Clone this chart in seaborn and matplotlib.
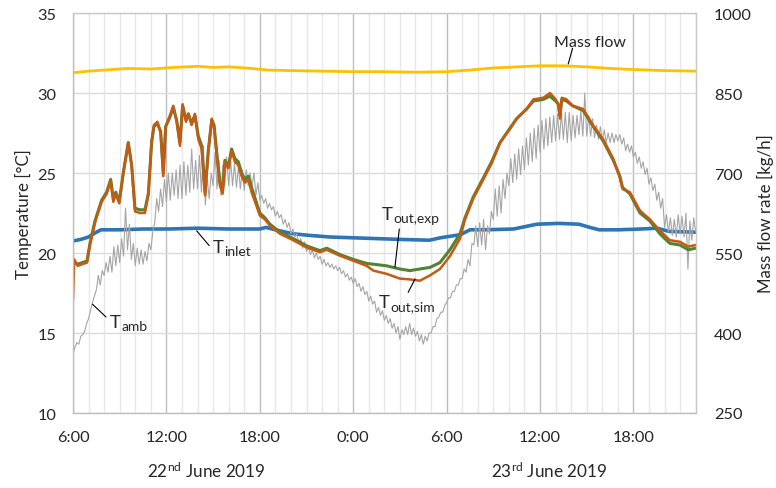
import numpy as np
import pandas as pd
import matplotlib
matplotlib.use("Agg")
import matplotlib.pyplot as plt
import seaborn as sns

# ---------------- data (hours after 22 June 2019, 6:00) ----------------
# ambient temperature, read every 7.5 min (one row = one hour)
amb = [13.7, 14.1, 14.4, 14.3, 14.8, 14.9, 15.1, 15.6,
       15.9, 16.4, 16.9, 17.3, 17.7, 18.6, 18.0, 18.9,
       18.6, 19.4, 18.8, 19.8, 18.8, 20.4, 19.2, 20.5,
       19.4, 20.9, 19.8, 22.8, 20.2, 21.8, 19.6, 20.6,
       19.2, 20.3, 19.3, 20.2, 19.3, 20.1, 19.5, 20.6,
       20.2, 21.3, 21.9, 23.4, 22.6, 24.0, 22.9, 24.6,
       23.2, 25.0, 23.3, 25.0, 23.6, 25.2, 23.4, 25.5,
       23.4, 25.7, 23.6, 25.5, 23.8, 26.5, 24.0, 25.8,
       24.0, 26.1, 23.8, 26.7, 23.0, 24.6, 23.4, 25.0,
       24.2, 26.3, 24.0, 25.8, 23.6, 25.5, 24.2, 26.0,
       24.2, 25.8, 24.2, 25.6, 24.1, 25.4, 24.0, 25.2,
       23.9, 25.2, 24.2, 25.0, 24.2, 25.0, 23.6, 24.4,
       23.3, 23.6, 23.1, 23.4, 22.8, 23.1, 22.7, 22.9,
       22.3, 22.6, 22.2, 22.4, 21.8, 22.1, 21.6, 21.9,
       21.2, 21.5, 21.0, 21.2, 20.6, 20.9, 20.3, 20.7,
       20.1, 20.4, 19.9, 20.2, 19.7, 20.0, 19.6, 19.8,
       19.3, 19.6, 19.2, 19.4, 19.1, 19.3, 19.0, 19.2,
       18.9, 19.1, 18.7, 18.9, 18.5, 18.7, 18.3, 18.5,
       18.1, 18.4, 17.9, 18.1, 17.6, 17.9, 17.4, 17.6,
       17.0, 17.3, 16.8, 17.0, 16.3, 16.6, 16.1, 16.4,
       15.8, 16.1, 15.6, 15.9, 15.3, 15.6, 15.0, 15.4,
       14.6, 15.2, 14.9, 15.4, 14.9, 15.6, 14.9, 15.3,
       14.8, 15.1, 14.5, 14.9, 14.3, 14.8, 14.5, 15.0,
       15.0, 15.4, 15.4, 15.9, 16.0, 16.3, 16.3, 16.7,
       16.9, 17.2, 17.2, 17.6, 17.6, 18.0, 18.0, 18.4,
       18.4, 19.0, 18.8, 19.6, 19.2, 20.6, 20.5, 21.7,
       20.4, 21.9, 20.5, 22.1, 20.2, 21.7, 21.2, 22.6,
       22.1, 24.0, 22.3, 24.2, 22.5, 24.6, 23.4, 25.0,
       24.2, 25.9, 24.4, 26.2, 24.6, 26.5, 24.9, 26.7,
       25.2, 27.2, 25.5, 27.5, 25.7, 27.8, 25.9, 28.0,
       26.3, 28.3, 26.5, 28.4, 26.7, 28.5, 26.9, 28.6,
       27.0, 28.7, 27.1, 28.8, 27.1, 28.8, 26.9, 28.8,
       27.0, 28.6, 27.2, 28.6, 27.4, 28.9, 27.3, 30.0,
       27.3, 28.6, 27.3, 28.4, 27.2, 28.0, 27.1, 27.9,
       27.0, 27.7, 26.9, 27.5, 26.9, 27.5, 26.9, 27.4,
       27.0, 27.4, 26.8, 27.2, 26.4, 26.8, 26.3, 26.7,
       26.0, 26.3, 25.6, 26.0, 25.3, 25.7, 24.9, 25.3,
       24.3, 24.7, 23.9, 24.3, 23.3, 23.8, 22.8, 23.4,
       21.6, 22.4, 21.3, 22.2, 21.1, 22.1, 21.0, 22.4,
       21.2, 22.3, 21.0, 22.5, 19.0, 22.0, 20.8, 22.2,
       21.3]
t_amb = [i * 0.125 for i in range(len(amb))]

t_out = [0.0, 0.08, 0.3, 0.9, 1.09, 1.41, 1.84, 2.16, 2.42, 2.59,
         2.75, 2.97, 3.23, 3.55, 3.77, 3.98, 4.3, 4.62, 4.84, 5.05,
         5.2, 5.42, 5.63, 5.8, 5.95, 6.23, 6.44, 6.66, 6.87, 7.04,
         7.26, 7.41, 7.62, 7.83, 8.05, 8.27, 8.48, 8.69, 8.91, 9.06,
         9.23, 9.44, 9.61, 9.76, 9.98, 10.19, 10.4, 10.62, 10.83, 11.04,
         11.26, 11.47, 11.8, 12.0, 12.33, 12.65, 13.3, 14.15, 15.0, 15.86,
         16.3, 17.15, 18.0, 18.86, 19.29, 20.14, 21.0, 21.64, 22.28, 22.93,
         23.57, 24.21, 24.86, 25.18, 25.71, 26.36, 26.89, 27.43, 28.07, 28.5,
         29.14, 29.57, 30.21, 30.64, 31.0, 31.17, 31.28, 31.4, 31.7, 32.1,
         32.77, 33.42, 34.06, 34.7, 35.13, 35.3, 35.77, 36.42, 37.06, 37.7,
         38.34, 38.99, 39.52, 40.0]
out_sim = [17.1, 19.6, 19.2, 19.4, 20.5, 21.9, 23.2, 23.7, 24.5, 23.2,
           23.7, 23.1, 25.0, 26.9, 25.4, 22.6, 22.5, 22.5, 23.7, 27.0,
           28.0, 28.2, 27.5, 24.8, 27.9, 28.6, 29.2, 28.2, 26.7, 29.3,
           28.2, 28.7, 28.0, 28.7, 27.1, 26.5, 23.6, 26.3, 28.4, 27.9,
           26.1, 24.2, 23.7, 25.7, 25.3, 26.4, 25.7, 25.5, 24.8, 24.4,
           24.6, 23.8, 22.9, 22.35, 22.1, 21.7, 21.2, 20.8, 20.35, 20.05,
           20.2, 19.83, 19.52, 19.2, 18.9, 18.7, 18.4, 18.35, 18.27, 18.6,
           19.0, 19.8, 20.9, 22.1, 23.4, 24.6, 25.6, 26.9, 27.75, 28.4,
           29.0, 29.6, 29.7, 30.0, 29.6, 29.3, 28.4, 29.7, 29.6, 29.2,
           29.0, 27.96, 27.1, 25.9, 24.7, 24.0, 23.8, 22.65, 22.1, 21.4,
           20.8, 20.7, 20.4, 20.5]
out_exp = [19.3, 19.4, 19.3, 19.5, 20.6, 22.0, 23.3, 23.8, 24.6, 23.4,
           23.8, 23.2, 25.0, 26.9, 25.5, 22.8, 22.7, 22.7, 23.7, 26.9,
           27.9, 28.1, 27.6, 25.0, 27.9, 28.5, 29.1, 28.3, 26.9, 29.2,
           28.3, 28.7, 28.1, 28.6, 27.3, 26.7, 23.8, 26.4, 28.3, 28.0,
           26.3, 24.4, 23.9, 25.8, 25.4, 26.5, 25.9, 25.7, 25.0, 24.6,
           24.8, 24.1, 23.1, 22.5, 22.2, 21.8, 21.3, 20.9, 20.45, 20.15,
           20.3, 19.9, 19.6, 19.35, 19.3, 19.2, 19.0, 18.9, 19.0, 19.1,
           19.4, 20.2, 21.2, 22.2, 23.5, 24.7, 25.7, 26.9, 27.8, 28.4,
           29.0, 29.5, 29.6, 29.8, 29.5, 29.3, 28.6, 29.6, 29.5, 29.2,
           28.9, 27.9, 27.0, 25.8, 24.8, 24.1, 23.7, 22.5, 22.0, 21.2,
           20.6, 20.5, 20.2, 20.3]

t_inlet = [0, 0.5, 1.0, 1.5, 1.8, 3, 4.5, 6.2, 8, 10, 12, 12.4, 13, 14.15,
           15.2, 16.5, 18, 19.5, 21, 22.9, 23.6, 24.9, 25.5, 26.5, 28.3,
           29.8, 31.2, 32.5, 33.2, 33.8, 35, 36.5, 37.5, 38.3, 40]
inlet = [20.75, 20.85, 21.0, 21.3, 21.45, 21.45, 21.5, 21.5, 21.55, 21.5,
         21.5, 21.6, 21.45, 21.2, 21.1, 21.0, 20.95, 20.9, 20.85, 20.8,
         20.95, 21.15, 21.45, 21.45, 21.5, 21.8, 21.85, 21.8, 21.6, 21.45,
         21.45, 21.5, 21.55, 21.35, 21.3]

t_mass = [0, 1, 2, 3.5, 5, 6.5, 8, 9, 10, 11.5, 12.5, 14, 16, 18, 20, 22,
          24, 25.5, 27, 28.5, 30, 31.5, 33, 34.5, 36, 38, 40]
mass = [888, 891, 893, 896, 895, 898, 900, 898, 899, 896, 893, 892, 891,
        890, 890, 889, 890, 893, 897, 899, 901, 901, 899, 896, 894, 892, 891]

xtick_pos = [0, 6, 12, 18, 24, 30, 36]
xtick_labels = ["6:00", "12:00", "18:00", "0:00", "6:00", "12:00", "18:00"]

# ---------------- style ----------------
sns.set_style("white")
plt.rcParams["font.family"] = ["Lato", "DejaVu Sans"]
plt.rcParams["mathtext.fontset"] = "custom"
plt.rcParams["mathtext.rm"] = "Lato"
plt.rcParams["mathtext.it"] = "Lato:italic"
plt.rcParams["mathtext.bf"] = "Lato:bold"

fig = plt.figure(figsize=(7.76, 4.89), dpi=100)
ax = fig.add_axes([73 / 776, 1 - 414 / 489, (695.7 - 73) / 776, 400 / 489])

ax.set_xlim(0, 40)
ax.set_ylim(10, 35)
ax.set_xticks(xtick_pos)
ax.set_xticklabels(xtick_labels)
ax.set_xticks(list(range(0, 41)), minor=True)
ax.set_yticks([10, 15, 20, 25, 30, 35])
ax.grid(which="minor", axis="x", color="#e8e8e8", lw=1.0)
ax.grid(which="major", axis="x", color="#bdbdbd", lw=1.0)
ax.grid(which="major", axis="y", color="#dcdcdc", lw=1.0)
ax.set_axisbelow(True)

sns.lineplot(x=t_inlet, y=inlet, ax=ax, color="#2e75b6", lw=2.6, sort=False)
sns.lineplot(x=t_amb, y=amb, ax=ax, color="#a5a5a5", lw=0.8, sort=False)
sns.lineplot(x=t_out, y=out_exp, ax=ax, color="#548235", lw=2.2, sort=False)
sns.lineplot(x=t_out, y=out_sim, ax=ax, color="#c55a11", lw=1.8, sort=False)

ax.tick_params(axis="both", which="both", length=0, labelsize=11.8, pad=12)
for s in ax.spines.values():
    s.set_color("#c8c8c8")
    s.set_linewidth(1.0)
ax.spines["left"].set_color("#bdbdbd")
ax.spines["bottom"].set_color("#bdbdbd")
ax.set_ylabel("Temperature [°C]", fontsize=12.2, labelpad=4)
ax.set_xlabel("")

ax2 = ax.twinx()
sns.lineplot(x=t_mass, y=mass, ax=ax2, color="#ffc000", lw=2.0, sort=False)
ax2.set_ylim(250, 1000)
ax2.set_yticks([250, 400, 550, 700, 850, 1000])
ax2.tick_params(axis="y", length=0, labelsize=11.8, pad=13)
ax2.set_ylabel("Mass flow rate [kg/h]", fontsize=12.2, labelpad=4)
for s in ax2.spines.values():
    s.set_visible(False)


def sub_label(x, y, sub):
    """'T' with a subscript, placed with its baseline at data point (x, y)."""
    t = ax.text(x, y, "T", fontsize=13.3, ha="left", va="baseline")
    ax.annotate(sub, xy=(1, 0), xycoords=t, xytext=(0.4, 0.3),
                textcoords="offset points", fontsize=10, ha="left",
                va="baseline")


lk = dict(arrowstyle="-", color="black", lw=0.8, shrinkA=0, shrinkB=0)
ax.annotate("", xy=(1.25, 16.8), xytext=(2.12, 16.0), arrowprops=lk)
sub_label(2.38, 15.36, "amb")
ax.annotate("", xy=(7.94, 21.39), xytext=(8.75, 20.46), arrowprops=lk)
sub_label(8.97, 20.04, "inlet")
ax.annotate("", xy=(20.68, 19.11), xytext=(20.96, 21.5), arrowprops=lk)
sub_label(19.83, 22.125, "out,exp")
ax.annotate("", xy=(21.97, 18.375), xytext=(21.53, 17.54), arrowprops=lk)
sub_label(19.65, 16.6, "out,sim")
ax.annotate("", xy=(31.81, 31.81), xytext=(32.09, 32.79), arrowprops=lk)
ax.text(33.2, 32.94, "Mass flow", fontsize=11.5, ha="center", va="baseline")

fig.text(206 / 776, 1 - 471 / 489, r"22$^{\mathrm{nd}}$ June 2019", fontsize=12.3,
         ha="center", va="center")
fig.text(549 / 776, 1 - 471 / 489, r"23$^{\mathrm{rd}}$ June 2019", fontsize=12.3,
         ha="center", va="center")

fig.savefig("out.png", dpi=100)
